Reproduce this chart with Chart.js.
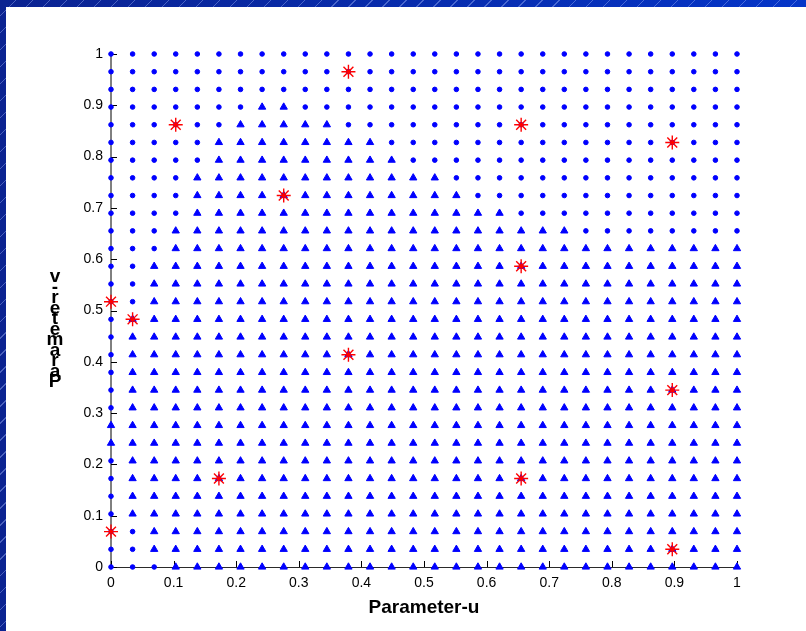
<!DOCTYPE html>
<html>
<head>
<meta charset="utf-8">
<script src="https://cdn.jsdelivr.net/npm/chart.js@4/dist/chart.umd.min.js"></script>
<style>
  html, body { margin: 0; padding: 0; width: 806px; height: 631px; overflow: hidden; }
  body {
    background:
      repeating-linear-gradient(135deg, rgba(170,190,255,0) 0px, rgba(170,190,255,0) 11px, rgba(170,190,255,0.4) 11px, rgba(170,190,255,0.4) 12px),
      linear-gradient(90deg, #0b2391 0%, #0535c8 100%);
  }
  #fig { position: absolute; left: 6px; top: 7px; }
</style>
</head>
<body>
<canvas id="fig" width="800" height="624"></canvas>
<script>
// grid positions used on both axes (30 x 30 lattice)
const gridValues = [0, 0.0345, 0.0690, 0.1034, 0.1379, 0.1724, 0.2069, 0.2414, 0.2759, 0.3103,
                    0.3448, 0.3793, 0.4138, 0.4483, 0.4828, 0.5172, 0.5517, 0.5862, 0.6207, 0.6552,
                    0.6897, 0.7241, 0.7586, 0.7931, 0.8276, 0.8621, 0.8966, 0.9310, 0.9655, 1];

// one string per grid row, top row (v = 1) first; '.' = dot, '^' = triangle
const regionRows = [
  '..............................',
  '..............................',
  '..............................',
  '.......^^.....................',
  '......^^^^^...................',
  '.....^^^^^^^^.................',
  '.....^^^^^^^^^................',
  '....^^^^^^^^^^^^..............',
  '....^^^^^^^^^^^^^.............',
  '....^^^^^^^^^^^^^^^...........',
  '...^^^^^^^^^^^^^^^^^^^........',
  '...^^^^^^^^^^^^^^^^^^^^^^^^^^^',
  '..^^^^^^^^^^^^^^^^^^^^^^^^^^^^',
  '..^^^^^^^^^^^^^^^^^^^^^^^^^^^^',
  '..^^^^^^^^^^^^^^^^^^^^^^^^^^^^',
  '.^^^^^^^^^^^^^^^^^^^^^^^^^^^^^',
  '.^^^^^^^^^^^^^^^^^^^^^^^^^^^^^',
  '.^^^^^^^^^^^^^^^^^^^^^^^^^^^^^',
  '.^^^^^^^^^^^^^^^^^^^^^^^^^^^^^',
  '.^^^^^^^^^^^^^^^^^^^^^^^^^^^^^',
  '.^^^^^^^^^^^^^^^^^^^^^^^^^^^^^',
  '^^^^^^^^^^^^^^^^^^^^^^^^^^^^^^',
  '^^^^^^^^^^^^^^^^^^^^^^^^^^^^^^',
  '.^^^^^^^^^^^^^^^^^^^^^^^^^^^^^',
  '.^^^^^^^^^^^^^^^^^^^^^^^^^^^^^',
  '.^^^^^^^^^^^^^^^^^^^^^^^^^^^^^',
  '.^^^^^^^^^^^^^^^^^^^^^^^^^^^^^',
  '..^^^^^^^^^^^^^^^^^^^^^^^^^^^^',
  '..^^^^^^^^^^^^^^^^^^^^^^^^^^^^',
  '...^^^^^^^^^^^^^^^^^^^^^^^^^^^'
];

// red sample points
const sampleU = [0, 0, 0.0345, 0.1724, 0.1034, 0.3793, 0.2759, 0.3793, 0.6552, 0.6552, 0.6552, 0.8966, 0.8966, 0.8966];
const sampleV = [0.5172, 0.0690, 0.4828, 0.1724, 0.8621, 0.9655, 0.7241, 0.4138, 0.8621, 0.5862, 0.1724, 0.8276, 0.3448, 0.0345];

const tickValues = [0, 0.1, 0.2, 0.3, 0.4, 0.5, 0.6, 0.7, 0.8, 0.9, 1];
const tickLabels = ['0', '0.1', '0.2', '0.3', '0.4', '0.5', '0.6', '0.7', '0.8', '0.9', '1'];
const xTitle = 'Parameter-u';
const yTitle = 'Parameter-v';

const FONT = 'Liberation Sans, Arial, Helvetica, sans-serif';

const dotPoints = [];
const trianglePoints = [];
regionRows.forEach((row, r) => {
    const v = gridValues[gridValues.length - 1 - r];
    row.split('').forEach((c, i) => {
        const p = { x: gridValues[i], y: v };
        if (c === '^') trianglePoints.push(p);
        else dotPoints.push(p);
    });
});
const samplePoints = sampleU.map((u, i) => ({ x: u, y: sampleV[i] }));

const whiteBg = {
    id: 'whiteBg',
    beforeDraw(chart) {
        const ctx = chart.ctx;
        ctx.save();
        ctx.fillStyle = '#ffffff';
        ctx.fillRect(0, 0, chart.width, chart.height);
        ctx.restore();
    }
};

// left + bottom axis lines with inward ticks (box off)
const axisLines = {
    id: 'axisLines',
    beforeDatasetsDraw(chart) {
        const { ctx, chartArea: a, scales } = chart;
        ctx.save();
        ctx.lineWidth = 1;
        ctx.strokeStyle = '#000000';
        ctx.beginPath();
        ctx.moveTo(a.left, a.top);
        ctx.lineTo(a.left, a.bottom);
        ctx.stroke();
        ctx.strokeStyle = '#2a2a2a';
        ctx.beginPath();
        ctx.moveTo(a.left, a.bottom + 0.5);
        ctx.lineTo(a.right, a.bottom + 0.5);
        ctx.stroke();
        ctx.strokeStyle = '#000000';
        ctx.beginPath();
        tickValues.forEach(v => {
            const px = Math.round(scales.x.getPixelForValue(v)) + 0.5;
            ctx.moveTo(px, a.bottom);
            ctx.lineTo(px, a.bottom - 6);
            const py = Math.round(scales.y.getPixelForValue(v)) + 0.5;
            ctx.moveTo(a.left, py);
            ctx.lineTo(a.left + 6, py);
        });
        ctx.stroke();
        ctx.restore();
    }
};

// y label rendered as upright letters stacked bottom-to-top
const stackedYTitle = {
    id: 'stackedYTitle',
    afterDraw(chart) {
        const { ctx, chartArea: a } = chart;
        ctx.save();
        ctx.fillStyle = '#000000';
        ctx.font = 'bold 19px ' + FONT;
        ctx.textAlign = 'center';
        ctx.textBaseline = 'alphabetic';
        const cx = a.left - 56;
        const baseY = a.bottom - 180;
        yTitle.split('').forEach((ch, k) => {
            ctx.fillText(ch, cx, baseY - k * 10.5);
        });
        ctx.restore();
    }
};

const canvas = document.getElementById('fig');
new Chart(canvas, {
    type: 'scatter',
    data: {
        datasets: [
            {
                label: 'samples',
                data: samplePoints,
                pointStyle: 'star',
                pointRadius: 7,
                pointBorderWidth: 1.4,
                borderColor: '#ff0000',
                backgroundColor: '#ff0000',
                order: 0
            },
            {
                label: 'outside',
                data: dotPoints,
                pointStyle: 'circle',
                pointRadius: 2.3,
                pointBorderWidth: 1,
                borderColor: '#0000ff',
                backgroundColor: '#0000ff',
                order: 1
            },
            {
                label: 'inside',
                data: trianglePoints,
                pointStyle: 'triangle',
                pointRadius: 4.2,
                pointBorderWidth: 1,
                borderColor: '#0000ff',
                backgroundColor: '#0000ff',
                order: 2
            }
        ]
    },
    options: {
        responsive: false,
        animation: false,
        devicePixelRatio: 1,
        clip: false,
        layout: { padding: { top: 47, right: 69, left: 0, bottom: 0 } },
        plugins: {
            legend: { display: false },
            tooltip: { enabled: false }
        },
        scales: {
            x: {
                type: 'linear',
                min: 0,
                max: 1,
                grid: { display: false, drawTicks: false },
                border: { display: false },
                afterBuildTicks: s => { s.ticks = tickValues.map(v => ({ value: v })); },
                afterFit: s => { s.height = 64; },
                ticks: {
                    padding: 8,
                    color: '#000000',
                    maxRotation: 0,
                    autoSkip: false,
                    font: { family: FONT, size: 14 },
                    callback: (v, i) => tickLabels[i]
                },
                title: {
                    display: true,
                    text: xTitle,
                    color: '#000000',
                    font: { family: FONT, size: 19, weight: 'bold' },
                    padding: { top: 4, bottom: 12 }
                }
            },
            y: {
                type: 'linear',
                min: 0,
                max: 1,
                grid: { display: false, drawTicks: false },
                border: { display: false },
                afterBuildTicks: s => { s.ticks = tickValues.map(v => ({ value: v })); },
                afterFit: s => { s.width = 105; },
                ticks: {
                    padding: 8,
                    color: '#000000',
                    autoSkip: false,
                    font: { family: FONT, size: 14 },
                    callback: (v, i) => tickLabels[i]
                }
            }
        }
    },
    plugins: [whiteBg, axisLines, stackedYTitle]
});
</script>
</body>
</html>
